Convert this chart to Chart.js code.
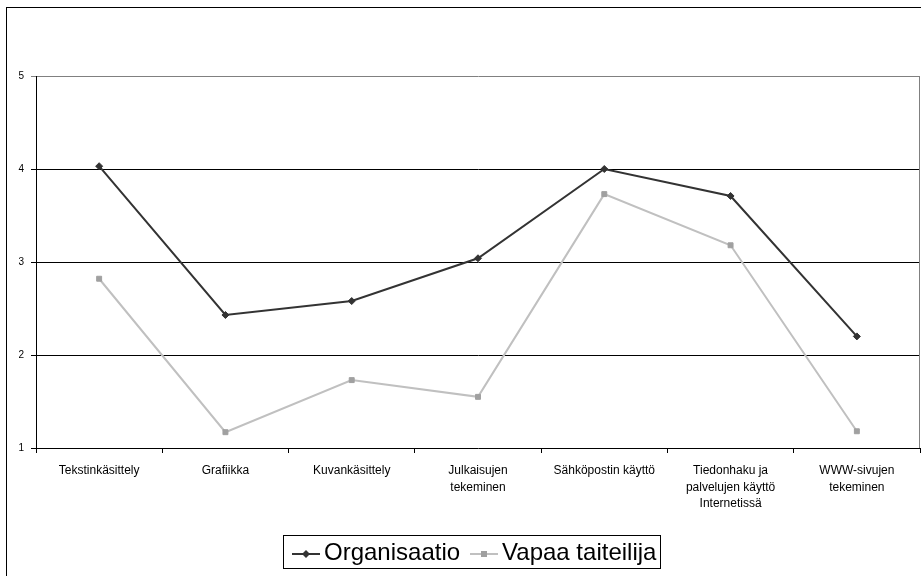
<!DOCTYPE html>
<html>
<head>
<meta charset="utf-8">
<script src="https://cdn.jsdelivr.net/npm/chart.js@4/dist/chart.umd.min.js"></script>
<style>
  html, body { margin: 0; padding: 0; background: #fff; overflow: hidden; }
  #wrap { position: relative; width: 921px; height: 576px; overflow: hidden; }
  #frame { position: absolute; left: 6px; top: 7px; width: 940px; height: 600px; border: 1px solid #000; }
  #canvas { position: absolute; left: 0; top: 0; }
  #legend { position: absolute; left: 283px; top: 535px; height: 32px; border: 1px solid #000;
            font-family: "Liberation Sans", Arial, sans-serif; font-size: 24px; line-height: 32px;
            padding: 0 4px 0 8px; white-space: nowrap; }
  #legend span { display: inline-block; vertical-align: top; }
  #legend svg { vertical-align: middle; margin-right: 4px; }
</style>
</head>
<body>
<div id="wrap">
  <div id="frame"></div>
  <canvas id="canvas" width="925" height="576"></canvas>
  <div id="legend"></div>
</div>
<script>
var categories = [
  'Tekstinkäsittely',
  'Grafiikka',
  'Kuvankäsittely',
  ['Julkaisujen', 'tekeminen'],
  'Sähköpostin käyttö',
  ['Tiedonhaku ja', 'palvelujen käyttö', 'Internetissä'],
  ['WWW-sivujen', 'tekeminen']
];
var organisaatio = [4.03, 2.43, 2.58, 3.04, 4.0, 3.71, 2.2];
var vapaaTaiteilija = [2.82, 1.17, 1.73, 1.55, 3.73, 3.18, 1.18];
var yTicks = [1, 2, 3, 4, 5];

var rightBorder = {
  id: 'rightBorder',
  afterDraw: function (chart) {
    var a = chart.chartArea, c = chart.ctx;
    c.save();
    c.strokeStyle = '#808080';
    c.lineWidth = 1;
    c.beginPath();
    c.moveTo(a.right - 0.5, a.top);
    c.lineTo(a.right - 0.5, a.bottom);
    c.stroke();
    c.restore();
  }
};

var ctx = document.getElementById('canvas').getContext('2d');
var chart = new Chart(ctx, {
  type: 'line',
  data: {
    labels: categories,
    datasets: [{
      label: 'Organisaatio',
      data: organisaatio,
      borderColor: '#333333',
      backgroundColor: '#333333',
      borderWidth: 2,
      pointStyle: 'rectRot',
      pointRadius: 3.5,
      pointBorderWidth: 1,
      tension: 0
    }, {
      label: 'Vapaa taiteilija',
      data: vapaaTaiteilija,
      borderColor: '#c0c0c0',
      backgroundColor: '#a0a0a0',
      pointBorderColor: '#a0a0a0',
      borderWidth: 2,
      pointStyle: 'rect',
      pointRadius: 3.5,
      pointBorderWidth: 1,
      tension: 0
    }]
  },
  options: {
    responsive: false,
    animation: false,
    layout: { padding: { top: 76, right: 0, left: 0, bottom: 0 } },
    plugins: {
      legend: { display: false },
      tooltip: { enabled: false }
    },
    scales: {
      x: {
        offset: true,
        afterFit: function (s) { s.height = 128; },
        grid: {
          offset: true,
          drawOnChartArea: false,
          drawTicks: true,
          tickLength: 5,
          color: '#000'
        },
        border: { display: false },
        ticks: {
          maxRotation: 0,
          autoSkip: false,
          padding: 9,
          color: '#000',
          font: { family: '"Liberation Sans", Arial, sans-serif', size: 12, lineHeight: 1.4 }
        }
      },
      y: {
        min: 1,
        max: 5,
        afterFit: function (s) { s.width = 36; },
        afterBuildTicks: function (s) { s.ticks = yTicks.map(function (v) { return { value: v }; }); },
        grid: {
          tickLength: 5,
          color: function (c) { return c.tick && c.tick.value === 5 ? '#808080' : '#000'; }
        },
        border: { display: true, color: '#000', width: 1 },
        ticks: {
          padding: 7,
          color: '#000',
          font: { family: '"Liberation Sans", Arial, sans-serif', size: 10 }
        }
      }
    }
  },
  plugins: [rightBorder]
});

// HTML legend built from the datasets
var legend = document.getElementById('legend');
chart.data.datasets.forEach(function (ds, i) {
  var marker = ds.pointStyle === 'rectRot'
    ? '<polygon points="14,6 18,10 14,14 10,10" fill="' + ds.backgroundColor + '"/>'
    : '<rect x="11" y="7" width="6" height="6" fill="' + ds.backgroundColor + '"/>';
  var item = document.createElement('span');
  item.style.marginRight = i === 0 ? '10px' : '0';
  item.innerHTML = '<svg width="28" height="20"><line x1="0" y1="10" x2="28" y2="10" stroke="' +
    ds.borderColor + '" stroke-width="2"/>' + marker + '</svg>' + ds.label;
  legend.appendChild(item);
});
</script>
</body>
</html>
